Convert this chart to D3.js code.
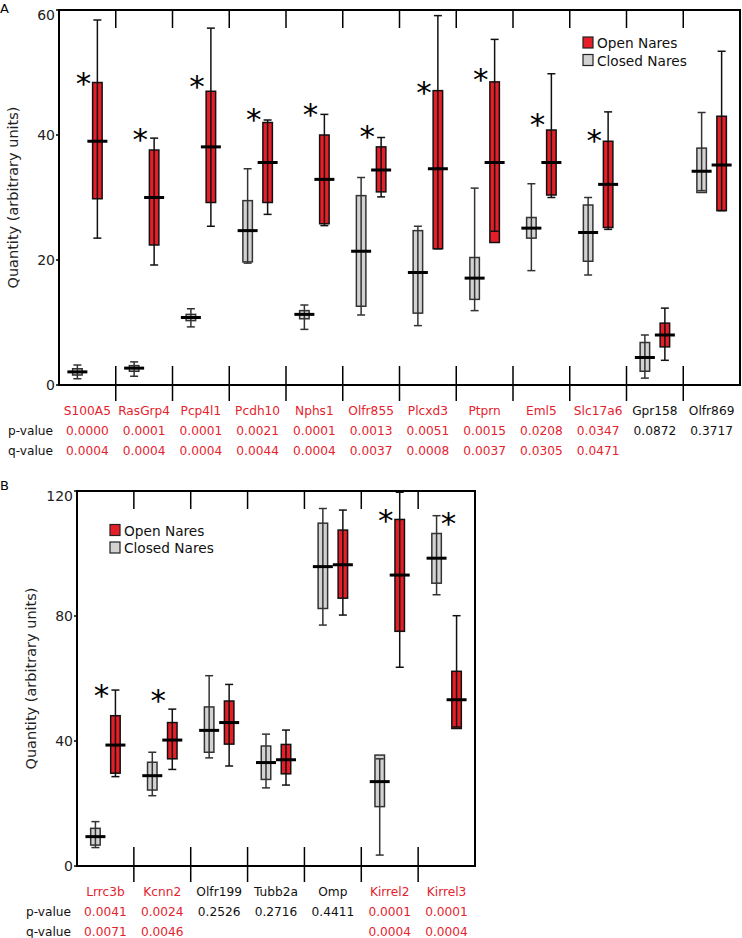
<!DOCTYPE html>
<html>
<head>
<meta charset="utf-8">
<script src="https://cdn.jsdelivr.net/npm/d3@7"></script>
<style>
  html, body { margin: 0; padding: 0; background: #fff; }
  svg { display: block; font-family: "DejaVu Sans", Verdana, sans-serif; }
</style>
</head>
<body>
<svg id="chart" width="742" height="938"></svg>
<script>
// ---------- Panel A data ----------
const genesA = ["S100A5","RasGrp4","Pcp4l1","Pcdh10","Nphs1","Olfr855","Plcxd3","Ptprn","Eml5","Slc17a6","Gpr158","Olfr869"];
const pValuesA = ["0.0000","0.0001","0.0001","0.0021","0.0001","0.0013","0.0051","0.0015","0.0208","0.0347","0.0872","0.3717"];
const qValuesA = ["0.0004","0.0004","0.0004","0.0044","0.0004","0.0037","0.0008","0.0037","0.0305","0.0471","",""];
// [whisker low, box low, median, box high, whisker high]
const closedA = [
  [1.0, 1.6, 2.1, 2.6, 3.2],
  [1.4, 2.2, 2.7, 3.1, 3.7],
  [9.3, 10.3, 10.8, 11.3, 12.2],
  [19.5, 19.7, 24.7, 29.5, 34.6],
  [8.9, 10.6, 11.3, 11.9, 12.8],
  [11.2, 12.6, 21.4, 30.3, 33.2],
  [9.5, 11.5, 18.0, 24.7, 25.4],
  [11.9, 13.7, 17.1, 20.4, 31.5],
  [18.3, 23.5, 25.1, 26.8, 32.2],
  [17.6, 19.8, 24.4, 28.8, 30.0],
  [1.1, 2.2, 4.4, 6.8, 8.0],
  [31.1, 30.8, 34.2, 37.9, 43.6]
];
const openA = [
  [23.5, 29.8, 39.0, 48.4, 58.4],
  [19.2, 22.4, 30.0, 37.6, 39.5],
  [25.4, 29.2, 38.1, 47.0, 57.1],
  [27.3, 29.2, 35.6, 42.0, 42.4],
  [25.5, 25.8, 32.9, 40.0, 43.3],
  [30.1, 30.9, 34.4, 38.1, 39.6],
  [21.8, 21.8, 34.6, 47.1, 59.1],
  [24.6, 22.8, 35.6, 48.5, 55.3],
  [30.0, 30.4, 35.6, 40.8, 49.8],
  [24.9, 25.2, 32.1, 39.0, 43.7],
  [3.95, 6.1, 8.0, 9.9, 12.3],
  [27.9, 27.9, 35.2, 43.0, 53.4]
];
const starsA = [49.3, 40.4, 48.8, 43.6, 44.3, 40.8, 47.9, 49.9, 42.7, 40.2, null, null];
const ticksA = [0, 20, 40, 60];

// ---------- Panel B data ----------
const genesB = ["Lrrc3b","Kcnn2","Olfr199","Tubb2a","Omp","Kirrel2","Kirrel3"];
const pValuesB = ["0.0041","0.0024","0.2526","0.2716","0.4411","0.0001","0.0001"];
const qValuesB = ["0.0071","0.0046","","","","0.0004","0.0004"];
const closedB = [
  [5.9, 6.7, 9.4, 12.05, 14.2],
  [22.5, 24.3, 28.9, 33.2, 36.4],
  [34.6, 36.4, 43.4, 50.9, 60.9],
  [25.0, 27.7, 33.1, 38.4, 42.2],
  [77.1, 82.4, 95.8, 109.7, 114.4],
  [3.5, 19.0, 27.0, 35.5, 34.3],
  [86.8, 90.5, 98.5, 106.4, 112.1]
];
const openB = [
  [28.6, 29.7, 38.7, 48.1, 56.3],
  [30.9, 34.3, 40.3, 45.9, 50.2],
  [32.0, 39.0, 45.9, 52.8, 58.1],
  [25.9, 29.5, 34.0, 38.9, 43.5],
  [80.3, 85.7, 96.4, 107.5, 113.9],
  [63.6, 75.1, 93.1, 110.9, 119.6],
  [44.5, 44.0, 53.2, 62.3, 80.1]
];
const starsB = [56.6, 55.0, null, null, null, 112.8, 111.8];
const ticksB = [0, 40, 80, 120];

const seriesNames = ["Open Nares", "Closed Nares"];

// ---------- styles ----------
const RED = "#e61e27";
const GRAY = "#d2d2d2";
const TEXT_RED = "#e4222d";

const svg = d3.select("#chart");

function drawPanel(cfg) {
  const g = svg.append("g");
  const x = d3.scaleBand().domain(cfg.genes).range([cfg.left, cfg.right]).padding(0);
  const y = d3.scaleLinear().domain(cfg.domain).range([cfg.bottom, cfg.top]);
  const off = 10, bw = 9.5, mw = 20, cw = 8;

  // panel letter
  g.append("text").attr("x", 0).attr("y", cfg.letterY).attr("font-size", 13).text(cfg.letter);

  // y-axis tick labels
  cfg.ticks.forEach(t => {
    const yy = Math.max(y(t), cfg.top + 5);
    g.append("text").attr("x", cfg.left - 4).attr("y", yy).attr("dy", "0.36em")
      .attr("text-anchor", "end").attr("font-size", 14).attr("fill", "#222").text(t);
    g.append("line").attr("x1", cfg.left - 3).attr("x2", cfg.left).attr("y1", y(t)).attr("y2", y(t))
      .attr("stroke", "#000").attr("stroke-width", 1.5);
  });

  // y title
  const cy = (cfg.top + cfg.bottom) / 2;
  g.append("text").attr("transform", `translate(${cfg.titleX},${cy}) rotate(-90)`)
    .attr("text-anchor", "middle").attr("font-size", 14.5).attr("fill", "#222")
    .text("Quantity (arbitrary units)");

  // category separators
  cfg.genes.slice(1).forEach(gn => {
    const xx = x(gn);
    g.append("line").attr("x1", xx).attr("x2", xx).attr("y1", cfg.top).attr("y2", cfg.top + 18)
      .attr("stroke", "#000").attr("stroke-width", 1.5);
    g.append("line").attr("x1", xx).attr("x2", xx).attr("y1", cfg.bottom - 19).attr("y2", cfg.bottom + 16)
      .attr("stroke", "#000").attr("stroke-width", 1.5);
  });

  function box(cx, v, fill, outline) {
    const [lo, q1, med, q3, hi] = v;
    const bt = Math.max(q1, q3), bb = Math.min(q1, q3);
    g.append("rect").attr("x", cx - bw / 2).attr("y", y(bt)).attr("width", bw).attr("height", y(bb) - y(bt))
      .attr("fill", fill).attr("stroke", outline).attr("stroke-width", 1.5);
    g.append("line").attr("x1", cx).attr("x2", cx).attr("y1", y(lo)).attr("y2", y(hi))
      .attr("stroke", outline).attr("stroke-width", 1.5);
    [lo, hi].forEach(w => g.append("line").attr("x1", cx - cw / 2).attr("x2", cx + cw / 2)
      .attr("y1", y(w)).attr("y2", y(w)).attr("stroke", outline).attr("stroke-width", 1.5));
    g.append("line").attr("x1", cx - mw / 2).attr("x2", cx + mw / 2).attr("y1", y(med)).attr("y2", y(med))
      .attr("stroke", "#000").attr("stroke-width", 3);
  }

  cfg.genes.forEach((gn, i) => {
    const c = x(gn) + x.bandwidth() / 2;
    box(c - off, cfg.closed[i], GRAY, "#333");
    box(c + off, cfg.open[i], RED, "#111");
    if (cfg.stars[i] != null) {
      const openHigher = cfg.open[i][4] >= cfg.closed[i][4] || cfg.open[i][3] >= cfg.closed[i][3];
      const sx = c + (openHigher ? -4 : 2);
      g.append("text").attr("x", sx).attr("y", y(cfg.stars[i]) + 17)
        .attr("text-anchor", "middle").attr("font-size", 31).attr("fill", "#000").text("*");
    }
    const sig = cfg.q[i] !== "";
    const col = sig ? TEXT_RED : "#111";
    g.append("text").attr("x", c).attr("y", cfg.bottom + 30).attr("text-anchor", "middle")
      .attr("font-size", 12.2).attr("fill", col).text(gn);
    g.append("text").attr("x", c).attr("y", cfg.bottom + 50).attr("text-anchor", "middle")
      .attr("font-size", 12.2).attr("fill", col).text(cfg.p[i]);
    if (cfg.q[i]) g.append("text").attr("x", c).attr("y", cfg.bottom + 70).attr("text-anchor", "middle")
      .attr("font-size", 12.2).attr("fill", col).text(cfg.q[i]);
  });

  g.append("text").attr("x", cfg.left - 6).attr("y", cfg.bottom + 50).attr("text-anchor", "end")
    .attr("font-size", 12.2).attr("fill", "#111").text("p-value");
  g.append("text").attr("x", cfg.left - 6).attr("y", cfg.bottom + 70).attr("text-anchor", "end")
    .attr("font-size", 12.2).attr("fill", "#111").text("q-value");

  // frame
  g.append("rect").attr("x", cfg.left).attr("y", cfg.top).attr("width", cfg.right - cfg.left)
    .attr("height", cfg.bottom - cfg.top).attr("fill", "none").attr("stroke", "#000").attr("stroke-width", 2);

  // legend
  const lg = g.append("g").attr("transform", `translate(${cfg.legendX},${cfg.legendY})`);
  [RED, GRAY].forEach((col, k) => {
    lg.append("rect").attr("x", 0).attr("y", k * 17.5).attr("width", 10).attr("height", 11)
      .attr("fill", col).attr("stroke", "#222").attr("stroke-width", 1.2);
    lg.append("text").attr("x", 14).attr("y", k * 17.5 + 11).attr("font-size", 13.7).attr("fill", "#111")
      .text(seriesNames[k]);
  });
}

drawPanel({
  letter: "A", letterY: 12.5, genes: genesA, p: pValuesA, q: qValuesA,
  closed: closedA, open: openA, stars: starsA, ticks: ticksA, domain: [0, 60],
  left: 59, right: 740, top: 10, bottom: 385, titleX: 17.5, legendX: 583, legendY: 37
});
drawPanel({
  letter: "B", letterY: 490, genes: genesB, p: pValuesB, q: qValuesB,
  closed: closedB, open: openB, stars: starsB, ticks: ticksB, domain: [0, 120],
  left: 77, right: 475, top: 491, bottom: 866, titleX: 35.5, legendX: 110, legendY: 524.5
});
</script>
</body>
</html>
